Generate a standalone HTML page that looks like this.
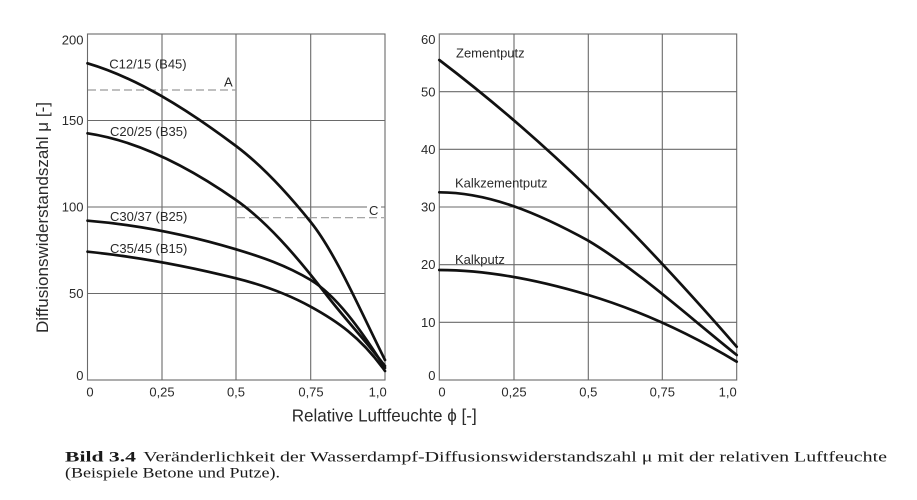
<!DOCTYPE html>
<html>
<head>
<meta charset="utf-8">
<style>
  html,body{margin:0;padding:0;background:#fff;}
  svg{display:block;}
  .t{font-family:"Liberation Sans",Arial,sans-serif;fill:#2a2a2a;}
  .cap{font-family:"Liberation Serif","Times New Roman",Times,serif;fill:#1a1a1a;}
</style>
</head>
<body>
<svg width="917" height="500" viewBox="0 0 917 500" xmlns="http://www.w3.org/2000/svg">
  <rect width="917" height="500" fill="#fff"/>

  <!-- LEFT PANEL grid -->
  <g stroke="#6a6a6a" stroke-width="1.1" fill="none">
    <line x1="162" y1="34" x2="162" y2="380"/>
    <line x1="236" y1="34" x2="236" y2="380"/>
    <line x1="310.7" y1="34" x2="310.7" y2="380"/>
    <line x1="87.5" y1="120.5" x2="385" y2="120.5"/>
    <line x1="87.5" y1="207" x2="385" y2="207"/>
    <line x1="87.5" y1="293.5" x2="385" y2="293.5"/>
    <rect x="87.5" y="34" width="297.5" height="346"/>
  </g>
  <!-- dashed reference lines -->
  <g stroke="#9a9a9a" stroke-width="1.2" stroke-dasharray="8,4" fill="none">
    <line x1="88" y1="90" x2="236" y2="90"/>
    <line x1="237" y1="217.7" x2="384" y2="217.7"/>
  </g>
  <rect x="367" y="203" width="14" height="13" fill="#fff"/>
  <text class="t" font-family="Liberation Sans, Arial, sans-serif" x="224" y="86.5" font-size="13">A</text>
  <text class="t" font-family="Liberation Sans, Arial, sans-serif" x="369" y="215" font-size="13">C</text>

  <!-- LEFT curves -->
  <g stroke="#111" stroke-width="2.7" fill="none" stroke-linecap="round">
    <path d="M87.5,63.3 C137,77.9 186.5,108.9 236,146 C260.9,164.7 285.8,191.1 310.7,222 C335.5,252.8 360.2,310.4 385,360"/>
    <path d="M87.5,133.3 C136.9,140.7 186.4,165.3 236,200 C265.7,220.8 295.3,254.4 325,293 C345,319 365,340 385,366"/>
    <path d="M87.5,220.7 C136.9,224.7 186.4,234.4 236,249.3 C260.9,256.8 285.8,265.1 310.7,280 C335.5,294.9 360.2,328.3 385,368"/>
    <path d="M87.5,251.7 C136.9,256.7 186.4,265.9 236,278.3 C260.9,284.5 285.8,293 310.7,306.7 C335.5,320.3 360.2,336.3 385,371"/>
  </g>
  <g class="t" font-family="Liberation Sans, Arial, sans-serif" font-size="13">
    <text x="109.3" y="68.5">C12/15 (B45)</text>
    <text x="110" y="136">C20/25 (B35)</text>
    <text x="110" y="221">C30/37 (B25)</text>
    <text x="110" y="253">C35/45 (B15)</text>
  </g>

  <!-- LEFT y ticks -->
  <g class="t" font-family="Liberation Sans, Arial, sans-serif" font-size="13" text-anchor="end">
    <text x="83.5" y="44.5">200</text>
    <text x="83.5" y="125">150</text>
    <text x="83.5" y="211.5">100</text>
    <text x="83.5" y="298">50</text>
    <text x="83.5" y="380">0</text>
  </g>
  <!-- LEFT x ticks -->
  <g class="t" font-family="Liberation Sans, Arial, sans-serif" font-size="13" text-anchor="middle">
    <text x="90" y="396.5">0</text>
    <text x="162" y="396.5">0,25</text>
    <text x="236" y="396.5">0,5</text>
    <text x="311" y="396.5">0,75</text>
    <text x="377.7" y="396.5">1,0</text>
  </g>

  <!-- RIGHT PANEL grid -->
  <g stroke="#6a6a6a" stroke-width="1.1" fill="none">
    <line x1="514" y1="34" x2="514" y2="380"/>
    <line x1="588.3" y1="34" x2="588.3" y2="380"/>
    <line x1="662.3" y1="34" x2="662.3" y2="380"/>
    <line x1="439.3" y1="91.7" x2="736.7" y2="91.7"/>
    <line x1="439.3" y1="149.3" x2="736.7" y2="149.3"/>
    <line x1="439.3" y1="207" x2="736.7" y2="207"/>
    <line x1="439.3" y1="264.7" x2="736.7" y2="264.7"/>
    <line x1="439.3" y1="322.3" x2="736.7" y2="322.3"/>
    <rect x="439.3" y="34" width="297.4" height="346"/>
  </g>
  <!-- RIGHT curves -->
  <g stroke="#111" stroke-width="2.7" fill="none" stroke-linecap="round">
    <path d="M439.3,60 C489,97.8 538.6,140.1 588.3,188.3 C637.8,236.3 687.2,289.8 736.7,346.7"/>
    <path d="M439.3,192.3 C489,192.3 538.6,213.4 588.3,240.7 C637.8,270.4 687.2,315.4 736.7,355"/>
    <path d="M439.3,270 C489,270 538.6,280.1 588.3,295 C637.8,309.9 687.2,332 736.7,361.7"/>
  </g>
  <g class="t" font-family="Liberation Sans, Arial, sans-serif" font-size="13">
    <text x="456" y="57.5">Zementputz</text>
    <text x="455" y="187.5">Kalkzementputz</text>
    <text x="455" y="264">Kalkputz</text>
  </g>

  <!-- RIGHT y ticks -->
  <g class="t" font-family="Liberation Sans, Arial, sans-serif" font-size="13" text-anchor="end">
    <text x="435.5" y="44">60</text>
    <text x="435.5" y="96.5">50</text>
    <text x="435.5" y="154">40</text>
    <text x="435.5" y="211.5">30</text>
    <text x="435.5" y="269">20</text>
    <text x="435.5" y="327">10</text>
    <text x="435.5" y="380">0</text>
  </g>
  <!-- RIGHT x ticks -->
  <g class="t" font-family="Liberation Sans, Arial, sans-serif" font-size="13" text-anchor="middle">
    <text x="442" y="396.5">0</text>
    <text x="514" y="396.5">0,25</text>
    <text x="588.3" y="396.5">0,5</text>
    <text x="662.3" y="396.5">0,75</text>
    <text x="727.7" y="396.5">1,0</text>
  </g>

  <!-- Axis titles -->
  <text class="t" font-family="Liberation Sans, Arial, sans-serif" font-size="17" transform="translate(48,217.5) rotate(-90)" text-anchor="middle" textLength="231" lengthAdjust="spacingAndGlyphs">Diffusionswiderstandszahl μ [-]</text>
  <text class="t" font-family="Liberation Sans, Arial, sans-serif" x="291.7" y="421.7" font-size="17.5" textLength="185" lengthAdjust="spacingAndGlyphs">Relative Luftfeuchte ϕ [-]</text>

  <!-- Caption -->
  <g class="cap" font-family="Liberation Serif, Times New Roman, serif">
    <text x="65" y="461.5" font-size="15" font-weight="bold" textLength="71" lengthAdjust="spacingAndGlyphs">Bild 3.4</text>
    <text x="143.3" y="461.5" font-size="15" textLength="743.7" lengthAdjust="spacingAndGlyphs">Veränderlichkeit der Wasserdampf-Diffusionswiderstandszahl μ mit der relativen Luftfeuchte</text>
    <text x="65" y="477.5" font-size="15" textLength="215" lengthAdjust="spacingAndGlyphs">(Beispiele Betone und Putze).</text>
  </g>
</svg>
</body>
</html>
